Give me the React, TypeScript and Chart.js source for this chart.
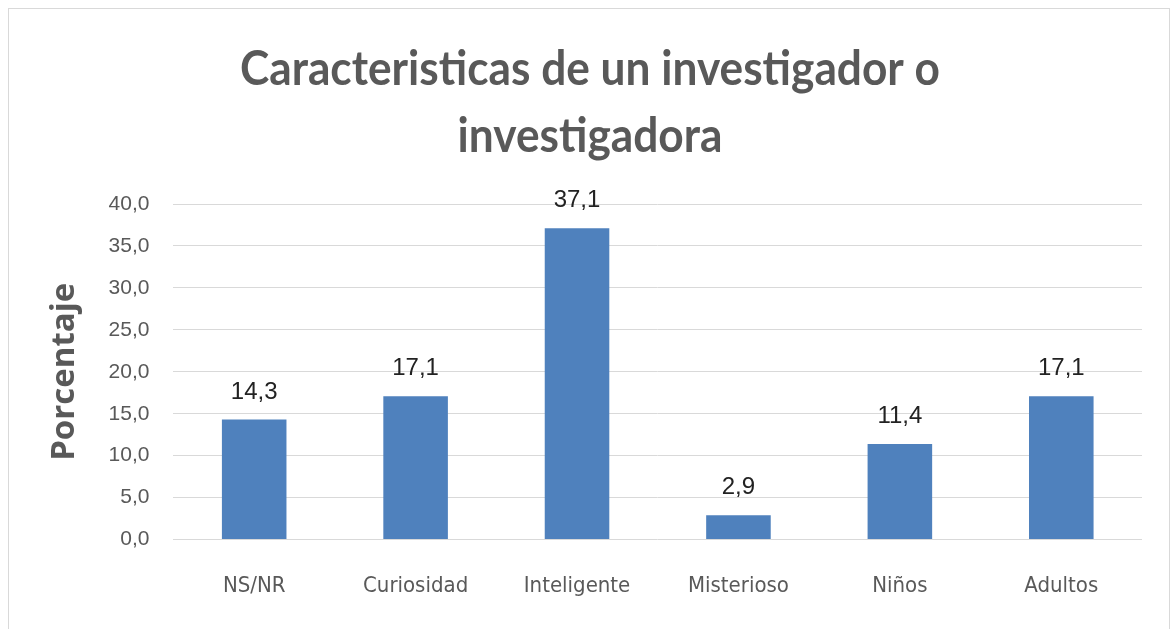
import React, { useEffect, useRef } from "react";
import { Chart, registerables } from "chart.js";

Chart.register(...registerables);

const titleLines = ["Caracteristicas de un investigador o", "investigadora"];
const yAxisTitle = "Porcentaje";
const categories = ["NS/NR", "Curiosidad", "Inteligente", "Misterioso", "Niños", "Adultos"];
const values = [14.3, 17.1, 37.1, 2.9, 11.4, 17.1];
const yTicks = [0, 5, 10, 15, 20, 25, 30, 35, 40];

const fmt = (v: number) => v.toFixed(1).replace(".", ",");

const NARROW = '"DejaVu Sans Condensed", "Liberation Sans Narrow", sans-serif';
const SANS = '"Liberation Sans", Arial, sans-serif';
const TITLE_FONT = 'bold 47px Lato, "Open Sans", sans-serif';
const TITLE_WIDTH = 700;

const titlePlugin = {
  id: "scaledTitle",
  afterDraw(chart: any) {
    const ctx = chart.ctx;
    ctx.save();
    ctx.font = TITLE_FONT;
    ctx.fillStyle = "#595959";
    ctx.textAlign = "center";
    ctx.textBaseline = "alphabetic";
    const sx = Math.min(1, TITLE_WIDTH / ctx.measureText(titleLines[0]).width);
    ctx.translate(chart.width / 2 + 1, 0);
    ctx.scale(sx, 1);
    titleLines.forEach((t, i) => ctx.fillText(t, 0, 76 + i * 66.5));
    ctx.restore();
  },
};

const valueLabels = {
  id: "valueLabels",
  afterDatasetsDraw(chart: any) {
    const ctx = chart.ctx;
    const meta = chart.getDatasetMeta(0);
    ctx.save();
    ctx.font = `24px ${SANS}`;
    ctx.fillStyle = "#222222";
    ctx.textAlign = "center";
    ctx.textBaseline = "alphabetic";
    meta.data.forEach((bar: any, i: number) => {
      ctx.fillText(fmt(values[i]), bar.x, bar.y - 21);
    });
    ctx.restore();
  },
};

export default function App() {
  const ref = useRef<HTMLCanvasElement | null>(null);

  useEffect(() => {
    if (!ref.current) return;
    const chart = new Chart(ref.current, {
      type: "bar",
      data: {
        labels: categories,
        datasets: [
          {
            data: values,
            backgroundColor: "#4f81bd",
            borderWidth: 0,
            barPercentage: 0.4,
            categoryPercentage: 1,
          },
        ],
      },
      options: {
        responsive: false,
        maintainAspectRatio: false,
        animation: false,
        devicePixelRatio: 1,
        layout: { padding: { left: 10, top: 195, right: 27, bottom: 0 } },
        plugins: {
          legend: { display: false },
          tooltip: { enabled: false },
          title: { display: false },
        },
        scales: {
          x: {
            grid: { display: false },
            border: { display: false },
            ticks: {
              color: "#595959",
              font: { family: NARROW, size: 22, lineHeight: 1.2 },
              padding: 25,
              maxRotation: 0,
            },
          },
          y: {
            min: 0,
            max: 40,
            afterBuildTicks: (axis: any) => {
              axis.ticks = yTicks.map((v) => ({ value: v }));
            },
            grid: { color: "#d9d9d9", lineWidth: 1, drawTicks: false },
            border: { display: false },
            ticks: {
              color: "#595959",
              font: { family: SANS, size: 21 },
              padding: 24,
              callback: (v: any) => fmt(Number(v)),
            },
            title: {
              display: true,
              text: yAxisTitle,
              color: "#595959",
              font: { family: '"Open Sans", sans-serif', size: 33, weight: "bold", lineHeight: 1.2 },
              padding: { top: 26, bottom: 0 },
            },
          },
        },
      },
      plugins: [valueLabels, titlePlugin],
    });
    return () => chart.destroy();
  }, []);

  return (
    <div
      style={{
        position: "fixed",
        left: 8,
        top: 8,
        width: 1160,
        height: 640,
        border: "1px solid #d9d9d9",
        background: "#ffffff",
      }}
    >
      <canvas
        ref={ref}
        width={1160}
        height={615}
        style={{ display: "block", width: 1160, height: 615 }}
      />
    </div>
  );
}
